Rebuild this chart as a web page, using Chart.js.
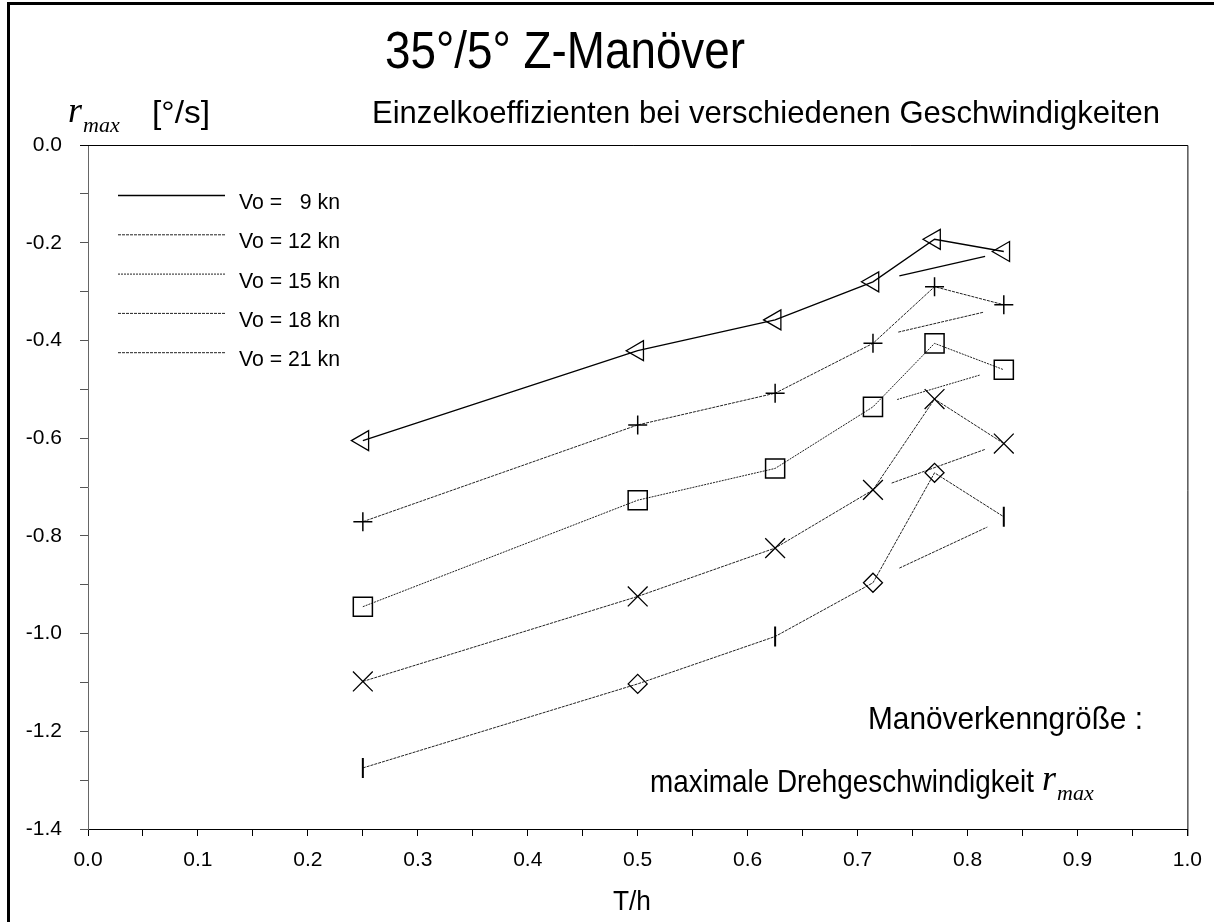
<!DOCTYPE html>
<html>
<head>
<meta charset="utf-8">
<script src="https://cdn.jsdelivr.net/npm/chart.js@4.4.1/dist/chart.umd.min.js"></script>
<style>
  body { margin: 0; background: #fff; }
  #wrap { width: 1214px; height: 922px; }
</style>
</head>
<body>
<div id="wrap"><canvas id="zChart" width="1214" height="922"></canvas></div>
<script>
// T/h values (same for all speeds)
const thValues = [0.25, 0.5, 0.625, 0.714, 0.77, 0.833];

// r_max [deg/s] per speed
const r9  = [-0.605, -0.421, -0.358, -0.280, -0.193, -0.218];
const r12 = [-0.771, -0.573, -0.508, -0.406, -0.290, -0.327];
const r15 = [-0.945, -0.727, -0.662, -0.536, -0.406, -0.460];
const r18 = [-1.098, -0.924, -0.825, -0.706, -0.520, -0.611];
const r21 = [-1.275, -1.103, -1.006, -0.896, -0.671, -0.761];

// loose connecting strokes between the 0.714 and 0.833 points
const segX9  = [0.738, 0.816],  segY9  = [-0.268, -0.228];
const segX12 = [0.737, 0.815],  segY12 = [-0.383, -0.342];
const segX15 = [0.736, 0.811],  segY15 = [-0.521, -0.471];
const segX18 = [0.731, 0.816],  segY18 = [-0.692, -0.623];
const segX21 = [0.738, 0.818],  segY21 = [-0.866, -0.782];

const speedLabels = ['Vo =   9 kn', 'Vo = 12 kn', 'Vo = 15 kn', 'Vo = 18 kn', 'Vo = 21 kn'];

const xTicks = [0.0, 0.1, 0.2, 0.3, 0.4, 0.5, 0.6, 0.7, 0.8, 0.9, 1.0];
const yTicks = [0.0, -0.2, -0.4, -0.6, -0.8, -1.0, -1.2, -1.4];

const SANS = '"Liberation Sans", Arial, sans-serif';
const SERIF = '"Liberation Serif", "Times New Roman", serif';

function pts(xs, ys) {
  return xs.map((x, i) => ({ x: x, y: ys[i] }));
}

const dashes = [[], [3, 1], [2, 1], [3, 1], [3, 1]];

function series(label, ys, idx, style, radius, rot, bw) {
  return {
    label: label,
    data: pts(thValues, ys),
    borderColor: idx === 0 ? '#000' : '#222',
    borderWidth: idx === 0 ? 1.3 : 1,
    borderDash: dashes[idx],
    pointStyle: style,
    pointRadius: radius,
    pointRotation: rot,
    pointBorderColor: '#000',
    pointBorderWidth: bw,
    pointBackgroundColor: 'rgba(0,0,0,0)',
    pointHoverRadius: radius,
    tension: 0,
    fill: false
  };
}

function seg(xs, ys, idx) {
  return {
    label: '',
    data: pts(xs, ys),
    borderColor: idx === 0 ? '#000' : '#222',
    borderWidth: idx === 0 ? 1.3 : 1,
    borderDash: dashes[idx],
    pointRadius: 0,
    pointHoverRadius: 0,
    fill: false
  };
}

const datasets = [
  series(speedLabels[0], r9, 0, 'triangle', 11.5, -90, 1.3),
  series(speedLabels[1], r12, 1, 'cross', 9.5, 0, 1.5),
  series(speedLabels[2], r15, 2, 'rect', 13.5, 0, 1.5),
  series(speedLabels[3], r18, 3, 'crossRot', 14, 0, 1.3),
  series(speedLabels[4], r21, 4,
    ['line', 'rectRot', 'line', 'rectRot', 'rectRot', 'line'],
    [10, 9.5, 10, 9.5, 9.5, 10],
    [90, 0, 90, 0, 0, 90],
    [2, 1.3, 2, 1.3, 1.3, 2]),
  seg(segX9, segY9, 0),
  seg(segX12, segY12, 1),
  seg(segX15, segY15, 2),
  seg(segX18, segY18, 3),
  seg(segX21, segY21, 4)
];

// text squeezed/stretched to the width seen in the scan
function fitText(ctx, text, x, y, size, width, sy, align) {
  ctx.save();
  ctx.font = size + 'px ' + SANS;
  ctx.textBaseline = 'alphabetic';
  ctx.textAlign = 'left';
  const w = ctx.measureText(text).width;
  const sx = width / w;
  let left = x;
  if (align === 'center') left = x - width / 2;
  if (align === 'right') left = x - width;
  ctx.translate(left, y);
  ctx.scale(sx, sy);
  ctx.fillText(text, 0, 0);
  ctx.restore();
}

// r_max drawn as italic serif r with subscript
function drawRmax(ctx, x, y, big, small) {
  ctx.save();
  ctx.font = 'italic ' + big + 'px ' + SERIF;
  ctx.textAlign = 'left';
  ctx.textBaseline = 'alphabetic';
  ctx.fillText('r', x, y);
  const w = ctx.measureText('r').width;
  ctx.font = 'italic ' + small + 'px ' + SERIF;
  ctx.fillText('max', x + w + 1, y + 10);
  ctx.restore();
}

const decor = {
  id: 'decor',
  beforeDraw(chart) {
    const ctx = chart.ctx;
    ctx.save();
    ctx.fillStyle = '#fff';
    ctx.fillRect(0, 0, chart.width, chart.height);
    ctx.restore();
  },
  afterDraw(chart) {
    const ctx = chart.ctx;
    const a = chart.chartArea;
    ctx.save();
    // outer frame (left + top)
    ctx.fillStyle = '#000';
    ctx.fillRect(7, 2, 3, 920);
    ctx.fillRect(7, 2, 1207, 3);

    // plot frame top and right
    ctx.strokeStyle = '#000';
    ctx.lineWidth = 1;
    ctx.beginPath();
    ctx.moveTo(80, a.top + 0.5);
    ctx.lineTo(a.right + 0.5, a.top + 0.5);
    ctx.lineTo(a.right + 0.5, a.bottom + 7);
    ctx.stroke();

    ctx.fillStyle = '#000';
    fitText(ctx, '35°/5° Z-Manöver', 565, 68, 40, 360, 1.3, 'center');
    fitText(ctx, 'Einzelkoeffizienten bei verschiedenen Geschwindigkeiten', 372, 123, 28, 788, 1.15, 'left');

    // y axis title
    drawRmax(ctx, 68, 122, 36, 22);
    fitText(ctx, '[°/s]', 152, 123, 28, 58, 1.15, 'left');

    // x axis title
    fitText(ctx, 'T/h', 632, 910, 24, 38, 1.15, 'center');

    // annotation
    fitText(ctx, 'Manöverkenngröße :', 1143, 729, 28, 275, 1.15, 'right');
    fitText(ctx, 'maximale Drehgeschwindigkeit', 1034, 792, 28, 384, 1.15, 'right');
    drawRmax(ctx, 1042, 790, 36, 22);

    // legend
    for (let i = 0; i < 5; i++) {
      const ds = chart.data.datasets[i];
      const ly = 195 + i * 39.3;
      ctx.strokeStyle = ds.borderColor;
      ctx.lineWidth = ds.borderWidth;
      ctx.setLineDash(ds.borderDash);
      ctx.beginPath();
      ctx.moveTo(118, ly + 0.5);
      ctx.lineTo(225, ly + 0.5);
      ctx.stroke();
      ctx.setLineDash([]);
      ctx.fillStyle = '#000';
      fitText(ctx, ds.label, 239, ly + 14, 20, 101, 1.1, 'left');
    }
    ctx.restore();
  }
};

function near(list, v) {
  return list.some(t => Math.abs(t - v) < 1e-6);
}

new Chart(document.getElementById('zChart'), {
  type: 'line',
  data: { datasets: datasets },
  options: {
    responsive: false,
    animation: false,
    layout: { padding: { left: 0, right: 26, top: 145, bottom: 0 } },
    plugins: {
      legend: { display: false },
      tooltip: { enabled: false },
      title: { display: false }
    },
    scales: {
      x: {
        type: 'linear',
        min: 0,
        max: 1,
        afterFit: s => { s.height = 93; },
        afterBuildTicks: s => { s.ticks = []; for (let i = 0; i <= 20; i++) s.ticks.push({ value: i * 0.05 }); },
        ticks: {
          autoSkip: false,
          maxRotation: 0,
          padding: 12,
          color: '#000',
          font: { family: SANS, size: 21 },
          callback: v => near(xTicks, v) ? v.toFixed(1) : ''
        },
        grid: { drawOnChartArea: false, drawTicks: true, tickLength: 7, color: '#000' },
        border: { color: '#000', width: 1 }
      },
      y: {
        type: 'linear',
        min: -1.4,
        max: 0,
        afterFit: s => { s.width = 88; },
        afterBuildTicks: s => { s.ticks = []; for (let i = 0; i <= 14; i++) s.ticks.push({ value: -i * 0.1 }); },
        ticks: {
          autoSkip: false,
          padding: 18,
          color: '#000',
          font: { family: SANS, size: 21 },
          callback: v => near(yTicks, v) ? v.toFixed(1).replace('-0.0', '0.0') : ''
        },
        grid: { drawOnChartArea: false, drawTicks: true, tickLength: 8, color: '#555' },
        border: { color: '#666', width: 1 }
      }
    }
  },
  plugins: [decor]
});
</script>
</body>
</html>
